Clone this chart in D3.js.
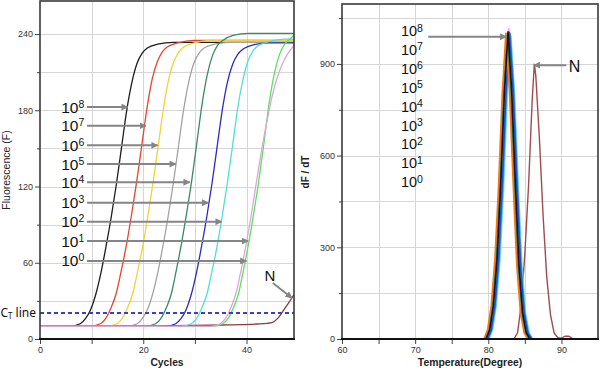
<!DOCTYPE html>
<html>
<head>
<meta charset="utf-8">
<script src="https://cdn.jsdelivr.net/npm/d3@7"></script>
<style>
  body { margin: 0; background: #fff; }
  svg { display: block; font-family: "Liberation Sans", Arial, sans-serif; }
  .tick text { font-size: 9px; fill: #333; }
  .tick line { stroke: #444; }
  .anno { font-family: "Liberation Sans", Arial, sans-serif; fill: #111; }
</style>
</head>
<body>
<div id="canvas"></div>
<script>
// ---- amplification (left) ----
const ampExponents = ["8", "7", "6", "5", "4", "3", "2", "1", "0"];
const ampColors = ["#1c1c1c", "#e2452f", "#f2cf3a", "#a3a3a3", "#3b8a62", "#2b2bc4", "#4ee0d8", "#5ee05e", "#d9a8d9"];
const ampCurves = [
  [[0,10],[5.8,10],[7.8,12],[8.8,16],[9.8,23],[10.8,35],[11.8,52],[12.8,73],[13.8,96],[14.8,122],[15.8,151],[16.8,180],[17.8,202],[18.8,217],[19.8,225],[20.8,229],[22.8,232],[25.8,233.5],[49.2,233.5]],
  [[0,10],[9.7,10],[11.7,12],[12.7,16],[13.7,24],[14.7,35],[15.7,53],[16.7,73],[17.7,97],[18.7,123],[19.7,152],[20.7,181],[21.7,204],[22.7,218],[23.7,226],[24.7,230],[26.7,233],[29.7,235],[49.2,235]],
  [[0,10],[12.9,10],[14.9,12],[15.9,16],[16.9,24],[17.9,35],[18.9,53],[19.9,73],[20.9,97],[21.9,123],[22.9,152],[23.9,181],[24.9,204],[25.9,218],[26.9,226],[27.9,230],[29.9,233],[32.9,235],[49.2,235]],
  [[0,10],[16.8,10],[18.8,12],[19.8,16],[20.8,23],[21.8,35],[22.8,52],[23.8,73],[24.8,96],[25.8,122],[26.8,151],[27.8,180],[28.8,202],[29.8,217],[30.8,225],[31.8,229],[33.8,232],[36.8,233.5],[49.2,233.5]],
  [[0,10],[20.4,10],[22.4,12],[23.4,16],[24.4,24],[25.4,35],[26.4,54],[27.4,75],[28.4,99],[29.4,125],[30.4,155],[31.4,185],[32.4,208],[33.4,223],[34.4,231],[35.4,235],[37.4,239],[40.4,240.5],[49.2,240.5]],
  [[0,10],[24.3,10],[26.3,12],[27.3,16],[28.3,23],[29.3,35],[30.3,52],[31.3,73],[32.3,96],[33.3,122],[34.3,151],[35.3,180],[36.3,202],[37.3,216],[38.3,224],[39.3,228],[41.3,231.5],[44.3,233],[49.2,233]],
  [[0,10],[27.3,10],[29.3,12],[30.3,16],[31.3,24],[32.3,35],[33.3,53],[34.3,73],[35.3,97],[36.3,123],[37.3,152],[38.3,182],[39.3,204],[40.3,219],[41.3,227],[42.3,231],[44.3,234],[47.3,236],[49.2,236]],
  [[0,10],[33.4,10],[35.4,12],[36.4,16],[37.4,24],[38.4,35],[39.4,54],[40.4,75],[41.4,99],[42.4,125],[43.4,155],[44.4,186],[45.4,209],[46.4,224],[47.4,232],[48.4,236],[49.2,239]],
  [[0,10],[32.9,10],[34.9,12],[35.9,16],[36.9,24],[37.9,35],[38.9,53],[39.9,74],[40.9,97],[41.9,123],[42.9,148],[43.9,170],[44.9,190],[45.9,205],[46.9,216],[47.9,224],[49.2,231]]
];
const ntcAmp = [[0,10],[20,10.3],[35,11],[42,11.8],[44,12.3],[45,13],[46,16],[47,21.5],[48,27.5],[49.2,35]];
const ctThreshold = 20.5;

const ampLabelF = [182.5, 167.8, 152.4, 137.7, 123.4, 107.2, 92.3, 77.1, 61.4];
const ampArrowTo = [17.0, 20.5, 22.8, 26.3, 29.0, 32.6, 35.2, 40.3, 40.0];
const ampLabelCycle = 4.1;
const ampArrowFrom = 9.1;
const ntcAmpLabel = [43.5, 45.6];
const ntcAmpArrow = [[45.1, 44.1], [48.8, 32.3]];

const cycleTicks = [0, 10, 20, 30, 40];
const fluorTicks = [0, 60, 120, 180, 240];
const fluorMinor = [30, 90, 150, 210];
const fluorGrid = [30, 60, 90, 120, 150, 180, 210, 240];

// ---- melt (right) ----
const meltColors = ["#f2a0f0", "#7fe6f0", "#2fa6ee", "#1f4fd8", "#f0c400", "#d63a24", "#2e8b4a", "#f07820", "#151515"];
const meltCurves = [
  [[60,0],[79.8,0],[80.3,30],[80.8,112],[81.3,264],[81.8,508],[82.3,812],[82.8,1015],[83.3,822],[83.8,518],[84.3,244],[84.8,86],[85.3,20],[85.8,0],[95,0]],
  [[60,0],[80.1,0],[80.6,30],[81.1,109],[81.6,257],[82.1,495],[82.6,792],[83.1,990],[83.6,802],[84.1,505],[84.6,238],[85.1,84],[85.6,20],[86.1,0],[95,0]],
  [[60,0],[80.0,0],[80.5,30],[81.0,110],[81.5,259],[82.0,499],[82.5,798],[83.0,998],[83.5,808],[84.0,509],[84.5,240],[85.0,85],[85.5,20],[86.0,0],[95,0]],
  [[60,0],[79.9,0],[80.4,30],[80.9,110],[81.4,261],[81.9,502],[82.4,802],[82.9,1003],[83.4,812],[83.9,512],[84.4,241],[84.9,85],[85.4,20],[85.9,0],[95,0]],
  [[60,0],[79.5,0],[80.0,30],[80.5,109],[81.0,257],[81.5,495],[82.0,792],[82.5,990],[83.0,802],[83.5,505],[84.0,238],[84.5,84],[85.0,20],[85.5,0],[95,0]],
  [[60,0],[79.6,0],[80.1,30],[80.6,110],[81.1,260],[81.6,500],[82.1,800],[82.6,1000],[83.1,810],[83.6,510],[84.1,240],[84.6,85],[85.1,20],[85.6,0],[95,0]],
  [[60,0],[79.6,0],[80.1,30],[80.6,109],[81.1,259],[81.6,498],[82.1,796],[82.6,995],[83.1,806],[83.6,507],[84.1,239],[84.6,85],[85.1,20],[85.6,0],[95,0]],
  [[60,0],[79.4,0],[79.9,30],[80.4,110],[80.9,260],[81.4,500],[81.9,800],[82.4,1000],[82.9,810],[83.4,510],[83.9,240],[84.4,85],[84.9,20],[85.4,0],[95,0]],
  [[60,0],[79.7,0],[80.2,30],[80.7,110],[81.2,261],[81.7,503],[82.2,804],[82.7,1005],[83.2,814],[83.7,513],[84.2,241],[84.7,85],[85.2,20],[85.7,0],[95,0]]
];
const ntcMelt = [[60,0],[83.5,0],[84,20],[84.5,110],[85,280],[85.5,500],[86,780],[86.3,900],[86.5,860],[87,650],[87.5,400],[88,200],[88.5,80],[89,20],[89.5,4],[90,3],[90.5,9],[91,9],[91.5,2],[92,0],[95,0]];

const meltLabelV = [1008, 948, 886, 824, 762, 700, 638, 577, 515];
const meltLabelT = 68.05;
const meltArrow = [[71.8, 989], [82.46, 989]];
const ntcMeltLabel = [91.0, 875];
const ntcMeltArrow = [[90.65, 896], [86.22, 896]];

const tempTicks = [60, 65, 70, 75, 80, 85, 90];
const tempLabels = [60, 70, 80, 90];
const dfTicks = [0, 300, 600, 900];
const dfMinor = [150, 450, 750, 1050];
const dfGrid = [150, 300, 450, 600, 750, 900, 1050];

const svg = d3.select("#canvas").append("svg").attr("width", 600).attr("height", 372);

const defs = svg.append("defs");
defs.append("marker")
  .attr("id", "arrow")
  .attr("viewBox", "0 0 10 10")
  .attr("refX", 9).attr("refY", 5)
  .attr("markerUnits", "userSpaceOnUse")
  .attr("markerWidth", 7).attr("markerHeight", 7)
  .attr("orient", "auto")
  .append("path").attr("d", "M0,0L10,5L0,10z").attr("fill", "#858585");

// scales
const xAmp = d3.scaleLinear().domain([0, 49.2]).range([40, 294]);
const yAmp = d3.scaleLinear().domain([0, 266]).range([339, 1]);
const xMelt = d3.scaleLinear().domain([60, 95]).range([342, 598]);
const yMelt = d3.scaleLinear().domain([0, 1096]).range([339, 4]);

function panel(x, y, id) {
  const [x0, x1] = x.range(), [y0, y1] = y.range();
  defs.append("clipPath").attr("id", id).append("rect")
    .attr("x", x0).attr("y", y1).attr("width", x1 - x0).attr("height", y0 - y1);
  return { x0, x1, y0, y1 };
}

function grid(x, y, xs, ys) {
  const g = svg.append("g").attr("stroke", "#d6d6d6").attr("stroke-width", 1);
  g.selectAll(".vg").data(xs).join("line")
    .attr("x1", d => Math.round(x(d)) + 0.5).attr("x2", d => Math.round(x(d)) + 0.5)
    .attr("y1", y.range()[1]).attr("y2", y.range()[0]);
  g.selectAll(".hg").data(ys).join("line")
    .attr("y1", d => Math.round(y(d)) + 0.5).attr("y2", d => Math.round(y(d)) + 0.5)
    .attr("x1", x.range()[0]).attr("x2", x.range()[1]);
}

function axes(x, y, xt, xlab, yt, ymin) {
  const b = y.range()[0], l = x.range()[0];
  svg.append("g").attr("transform", `translate(0,${b})`)
    .call(d3.axisBottom(x).tickValues(xt).tickSize(5).tickPadding(3)
      .tickFormat(d => xlab.includes(d) ? d : ""))
    .call(g => g.select(".domain").remove());
  svg.append("g").attr("transform", `translate(${l},0)`)
    .call(d3.axisLeft(y).tickValues(yt).tickSize(5).tickPadding(2))
    .call(g => g.select(".domain").remove());
  svg.append("g").attr("transform", `translate(${l},0)`)
    .call(d3.axisLeft(y).tickValues(ymin).tickSize(3).tickFormat(""))
    .call(g => g.select(".domain").remove());
}

function frame(p) {
  svg.append("rect")
    .attr("x", p.x0).attr("y", p.y1).attr("width", p.x1 - p.x0).attr("height", p.y0 - p.y1)
    .attr("fill", "none").attr("stroke", "#3a3a3a").attr("stroke-width", 1.6);
  svg.append("line")
    .attr("x1", p.x0 - 1).attr("x2", p.x1 + 1).attr("y1", p.y0).attr("y2", p.y0)
    .attr("stroke", "#111").attr("stroke-width", 2);
}

function expLabel(xp, yp, exp, size, supSize, shift) {
  const t = svg.append("text").attr("class", "anno")
    .attr("x", xp).attr("y", yp).attr("font-size", size + "px");
  t.append("tspan").text("10");
  t.append("tspan").attr("font-size", supSize + "px").attr("dy", -shift).text(exp);
}

function arrow(p0, p1) {
  svg.append("line")
    .attr("x1", p0[0]).attr("y1", p0[1]).attr("x2", p1[0]).attr("y2", p1[1])
    .attr("stroke", "#858585").attr("stroke-width", 2)
    .attr("marker-end", "url(#arrow)");
}

// ---------- left: amplification ----------
const pA = panel(xAmp, yAmp, "clipA");
grid(xAmp, yAmp, [10, 20, 30, 40], fluorGrid);

const ampLine = d3.line()
  .x(d => xAmp(d[0])).y(d => yAmp(d[1]))
  .curve(d3.curveMonotoneX);

const gA = svg.append("g").attr("clip-path", "url(#clipA)");
gA.append("path").datum(ntcAmp).attr("d", ampLine)
  .attr("fill", "none").attr("stroke", "#8c3a3a").attr("stroke-width", 1.3);
gA.selectAll(".amp").data(ampCurves).join("path")
  .attr("class", "amp")
  .attr("d", ampLine)
  .attr("fill", "none")
  .attr("stroke", (d, i) => ampColors[i])
  .attr("stroke-width", 1.3);

// threshold
gA.append("line")
  .attr("x1", xAmp.range()[0]).attr("x2", xAmp.range()[1])
  .attr("y1", yAmp(ctThreshold)).attr("y2", yAmp(ctThreshold))
  .attr("stroke", "#3b3bd6").attr("stroke-width", 2).attr("stroke-dasharray", "4,3");

const ct = svg.append("text").attr("class", "anno")
  .attr("x", 36).attr("y", yAmp(ctThreshold) + 4.5)
  .attr("text-anchor", "end").attr("font-size", "12px").attr("fill", "#222")
  .style("font-family", "'Noto Sans', sans-serif");
ct.append("tspan").text("C");
ct.append("tspan").attr("font-size", "8px").attr("dy", 2).text("T");
ct.append("tspan").attr("dy", -2).text(" line");

axes(xAmp, yAmp, cycleTicks, [0, 20, 40], fluorTicks, fluorMinor);
frame(pA);

ampExponents.forEach((e, i) => {
  expLabel(xAmp(ampLabelCycle), yAmp(ampLabelF[i]) + 5.5, e, 15.5, 10.5, 5);
  arrow([xAmp(ampArrowFrom), yAmp(ampLabelF[i])], [xAmp(ampArrowTo[i]), yAmp(ampLabelF[i])]);
});
svg.append("text").attr("class", "anno")
  .attr("x", xAmp(ntcAmpLabel[0])).attr("y", yAmp(ntcAmpLabel[1]))
  .attr("font-size", "15px").text("N");
arrow(ntcAmpArrow[0].map((v, k) => k ? yAmp(v) : xAmp(v)), ntcAmpArrow[1].map((v, k) => k ? yAmp(v) : xAmp(v)));

svg.append("text")
  .attr("transform", `translate(10,170) rotate(-90)`)
  .attr("text-anchor", "middle").attr("font-size", "10.5px").attr("fill", "#222")
  .text("Fluorescence (F)");
svg.append("text")
  .attr("x", 167).attr("y", 366)
  .attr("text-anchor", "middle").attr("font-size", "10.3px").attr("font-weight", "bold").attr("fill", "#222")
  .text("Cycles");

// ---------- right: melt ----------
const pM = panel(xMelt, yMelt, "clipM");
grid(xMelt, yMelt, [65, 70, 75, 80, 85, 90], dfGrid);

const meltLine = d3.line()
  .x(d => xMelt(d[0])).y(d => yMelt(d[1]));

const gM = svg.append("g").attr("clip-path", "url(#clipM)");
gM.append("path").datum(ntcMelt).attr("d", meltLine)
  .attr("fill", "none").attr("stroke", "#a04c4c").attr("stroke-width", 1.4);
gM.selectAll(".melt").data(meltCurves).join("path")
  .attr("class", "melt")
  .attr("d", meltLine)
  .attr("fill", "none")
  .attr("stroke", (d, i) => meltColors[i])
  .attr("stroke-width", 1.6)
  .attr("stroke-linejoin", "round");

axes(xMelt, yMelt, tempTicks, tempLabels, dfTicks, dfMinor);
frame(pM);

ampExponents.forEach((e, i) => {
  expLabel(xMelt(meltLabelT), yMelt(meltLabelV[i]) + 5.5, e, 14.5, 10.5, 4.5);
});
arrow([xMelt(meltArrow[0][0]), yMelt(meltArrow[0][1])], [xMelt(meltArrow[1][0]), yMelt(meltArrow[1][1])]);
svg.append("text").attr("class", "anno")
  .attr("x", xMelt(ntcMeltLabel[0])).attr("y", yMelt(ntcMeltLabel[1]))
  .attr("font-size", "16px").text("N");
arrow([xMelt(ntcMeltArrow[0][0]), yMelt(ntcMeltArrow[0][1])], [xMelt(ntcMeltArrow[1][0]), yMelt(ntcMeltArrow[1][1])]);

svg.append("text")
  .attr("transform", `translate(309,172) rotate(-90)`)
  .attr("text-anchor", "middle").attr("font-size", "10px").attr("font-weight", "bold").attr("fill", "#222")
  .text("dF / dT");
svg.append("text")
  .attr("x", 470).attr("y", 366)
  .attr("text-anchor", "middle").attr("font-size", "10.4px").attr("font-weight", "bold").attr("fill", "#222")
  .text("Temperature(Degree)");
</script>
</body>
</html>
